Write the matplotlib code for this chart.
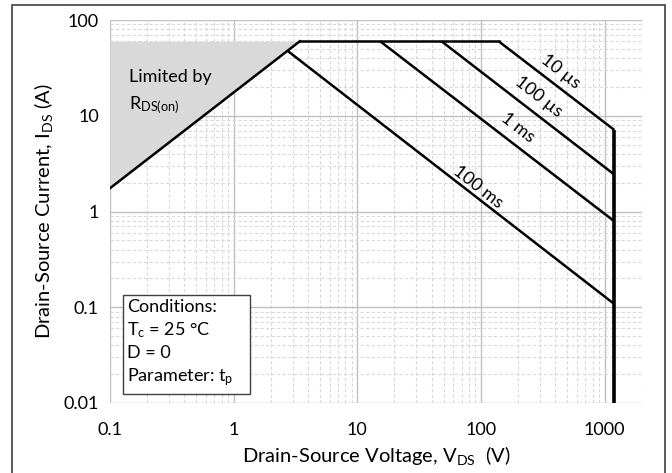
import numpy as np
import matplotlib.pyplot as plt
from matplotlib.patches import Rectangle

plt.rcParams['font.family'] = ['Lato', 'DejaVu Sans']
plt.rcParams['mathtext.fontset'] = 'custom'
plt.rcParams['mathtext.rm'] = 'Lato'
plt.rcParams['mathtext.it'] = 'Lato:italic'

# Safe operating area data (V, A)
I_max = 60.0            # package current limit
V_max = 1200.0          # breakdown voltage
rds_v = [0.1, 3.43]     # R_DS(on) limit line
rds_i = [1.75, 60.0]

pulse_labels = ['10 µs', '100 µs', '1 ms', '100 ms']
pulse_v = [[139, 1200], [48, 1200], [15.3, 1200], [2.71, 1200]]
pulse_i = [[60, 7.1], [60, 2.43], [60, 0.79], [48, 0.108]]
label_xy = [(440, 28.7), (292, 15.8), (200, 7.5), (94, 1.82)]

FS = 13

fig = plt.figure(figsize=(6.72, 4.73), dpi=100)
ax = fig.add_axes([0.1637, 0.148, 0.955 - 0.1637, 0.9577 - 0.148])

# outer frame
fig.patches.append(Rectangle((12 / 672, -0.05), (665 - 12) / 672, 1.05 - 5 / 473,
                             transform=fig.transFigure, fill=False,
                             edgecolor='#404040', linewidth=1.2))

ax.set_xscale('log')
ax.set_yscale('log')
ax.set_xlim(0.1, 2000)
ax.set_ylim(0.01, 100)

ax.grid(True, which='major', color='#c0c0c0', linewidth=1.0, linestyle='-')
ax.grid(True, which='minor', color='#d9d9d9', linewidth=0.8, linestyle=(0, (3, 2)))
ax.set_axisbelow(True)
for s in ax.spines.values():
    s.set_visible(False)
ax.tick_params(which='both', length=0, labelsize=FS)
ax.tick_params(axis='x', pad=14)
ax.tick_params(axis='y', pad=8)
ax.set_xticks([0.1, 1, 10, 100, 1000])
ax.set_xticklabels(['0.1', '1', '10', '100', '1000'])
ax.set_yticks([0.01, 0.1, 1, 10, 100])
ax.set_yticklabels(['0.01', '0.1', '1', '10', '100'])

# R_DS(on) limited region
ax.fill_between(rds_v, rds_i, I_max, color='#d9d9d9', linewidth=0, zorder=1)
ax.text(0.143, 25.5, 'Limited by', fontsize=FS, va='center')
ax.text(0.143, 12.8, r'R$_{\mathrm{DS(on)}}$', fontsize=FS, va='center')

lw = 1.8
ax.plot(rds_v, rds_i, color='black', lw=lw, zorder=3)
ax.plot([rds_v[1], pulse_v[0][0]], [I_max, I_max], color='black', lw=lw, zorder=3)
for v, i in zip(pulse_v, pulse_i):
    ax.plot(v, i, color='black', lw=lw, zorder=3, solid_capstyle='butt')
ax.plot([V_max, V_max], [pulse_i[0][1], 0.01], color='black', lw=2.6, zorder=3,
        solid_capstyle='butt')

for lab, (x, y) in zip(pulse_labels, label_xy):
    ax.text(x, y, lab, fontsize=FS, rotation=-38, rotation_mode='anchor',
            ha='center', va='center')

# conditions box
ax.add_patch(Rectangle((0.127, 0.0124), 1.36 - 0.127, 0.133 - 0.0124,
                       facecolor='white', edgecolor='#404040', linewidth=1, zorder=4))
ax.text(0.1374, 0.0143,
        'Conditions:\n' + r'T$_{\mathrm{c}}$ = 25 °C' + '\nD = 0\n' + r'Parameter: t$_{\mathrm{p}}$',
        fontsize=FS, linespacing=1.38, va='bottom', ha='left', zorder=5)

ax.set_xlabel(r'Drain-Source Voltage, V$_{\mathrm{DS}}$  (V)', fontsize=14.5, labelpad=4)
ax.set_ylabel(r'Drain-Source Current, I$_{\mathrm{DS}}$ (A)', fontsize=14.5, labelpad=6)

fig.savefig('out.png', dpi=100)
